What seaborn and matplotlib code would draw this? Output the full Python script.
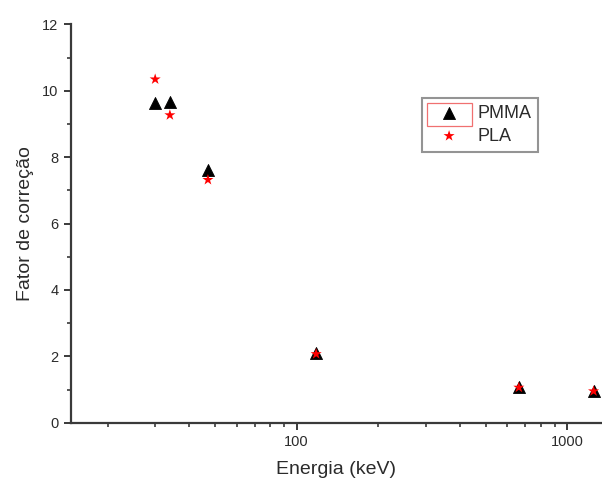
# Fator de correção vs energia (PMMA e PLA)
import numpy as np
import matplotlib
matplotlib.use('Agg')
import matplotlib.pyplot as plt
import matplotlib.ticker as mticker
from matplotlib.patches import Rectangle
import seaborn as sns
import pandas as pd

# data
energia = [30, 34, 47, 118, 662, 1250]
pmma = [9.64, 9.65, 7.62, 2.09, 1.08, 0.96]
pla = [10.35, 9.27, 7.32, 2.07, 1.06, 0.95]
xticks = [100, 1000]
xticklabels = ['100', '1000']
yticks = [0, 2, 4, 6, 8, 10, 12]

sns.set_style('ticks')
plt.rcParams['font.family'] = ['Liberation Sans', 'DejaVu Sans']

df_pmma = pd.DataFrame({'Energia': energia, 'Fator': pmma})
df_pla = pd.DataFrame({'Energia': energia, 'Fator': pla})

W, H = 602, 487
fig = plt.figure(figsize=(W / 100, H / 100), dpi=100)
ax = fig.add_axes([71 / W, 1 - 422.7 / H, (W - 71) / W, (422.7 - 24.5) / H])

sns.scatterplot(data=df_pmma, x='Energia', y='Fator', marker='^', color='black',
                s=75, edgecolor='black', linewidth=0.6, label='PMMA', ax=ax,
                zorder=3, clip_on=False)
sns.scatterplot(data=df_pla, x='Energia', y='Fator', marker='*', color='red',
                s=70, edgecolor='none', linewidth=0, label='PLA', ax=ax,
                zorder=4, clip_on=False)

ax.set_xscale('log')
ax.set_xlim(14.66, 1343)
ax.set_ylim(0, 12)
ax.set_xticks(xticks)
ax.set_xticklabels(xticklabels)
ax.xaxis.set_minor_locator(mticker.LogLocator(base=10, subs=np.arange(2, 10)))
ax.xaxis.set_minor_formatter(mticker.NullFormatter())
ax.set_yticks(yticks)
ax.yaxis.set_minor_locator(mticker.MultipleLocator(1))

txt = '#2b2b2b'
for s in ['top', 'right']:
    ax.spines[s].set_visible(False)
for s in ['left', 'bottom']:
    ax.spines[s].set_linewidth(1.6)
    ax.spines[s].set_color('#3a3a3a')
ax.tick_params(which='major', direction='out', length=5, width=1.4,
               color='#3a3a3a', labelsize=10.5, labelcolor=txt, pad=4)
ax.tick_params(which='minor', direction='out', length=2.8, width=1.2,
               color='#3a3a3a')

ax.set_xlabel('Energia (keV)', fontsize=14, color=txt)
ax.set_ylabel('Fator de correção', fontsize=14, color=txt)
ax.xaxis.set_label_coords(0.5, -0.095)
ax.yaxis.set_label_coords(-0.07, 0.5)

leg = ax.legend(loc='upper left', bbox_to_anchor=(422 / W, 1 - 98 / H),
                bbox_transform=fig.transFigure, fontsize=13, frameon=True,
                fancybox=False, borderpad=0.4, handletextpad=0.45,
                labelspacing=0.3, handlelength=2.2, borderaxespad=0)
leg.get_frame().set_edgecolor('#7a7a7a')
leg.get_frame().set_linewidth(1.5)
for t in leg.get_texts():
    t.set_color(txt)

# red selection box round the PMMA legend symbol
fig.add_artist(Rectangle((426.7 / W, 1 - 126 / H), 45 / W, 22.7 / H,
                         transform=fig.transFigure, fill=False,
                         edgecolor='#f07070', linewidth=0.9))

fig.savefig('out.png', dpi=100)
